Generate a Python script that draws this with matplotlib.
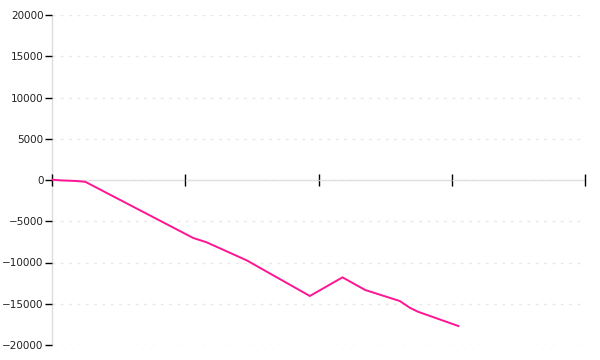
import matplotlib
matplotlib.use("Agg")
import matplotlib.pyplot as plt

# data (x in axis units 0..4)
x_vals = [0.0, 0.06, 0.18, 0.25, 1.06, 1.16, 1.46, 1.935, 2.18, 2.35, 2.61, 2.685, 2.745, 3.05]
y_vals = [30, -40, -120, -220, -7030, -7550, -9730, -14060, -11800, -13330, -14670, -15480, -15960, -17700]
y_ticks = [-20000, -15000, -10000, -5000, 0, 5000, 10000, 15000, 20000]
x_ticks = [0, 1, 2, 3, 4]

fig = plt.figure(figsize=(6, 3.6), dpi=100)
ax = fig.add_axes([52/600, (360-345)/360, (585-52)/600, 330/360])

ax.plot(x_vals, y_vals, color="#ff1493", lw=1.4, solid_joinstyle="round", zorder=3)

ax.set_xlim(0, 4)
ax.set_ylim(-20000, 20000)
ax.set_yticks(y_ticks)
ax.set_xticks(x_ticks)
ax.set_xticklabels([])

for s in ("top", "right"):
    ax.spines[s].set_visible(False)
ax.spines["left"].set_color("#dddddd")
ax.spines["bottom"].set_color("#dddddd")
ax.spines["bottom"].set_position(("data", 0))
ax.spines["left"].set_linewidth(1.0)
ax.spines["bottom"].set_linewidth(1.0)
ax.spines["left"].set_zorder(0.3)
ax.spines["bottom"].set_zorder(0.3)

ax.tick_params(axis="y", direction="out", length=5, width=1, color="black",
               labelsize=7.5, labelcolor="#222222", pad=1)
ax.tick_params(axis="x", direction="inout", length=9, width=1, color="black")

ax.yaxis.grid(True, linestyle=(0, (2, 4)), color="#e8e8e8", lw=1, zorder=0.1)
ax.xaxis.set_zorder(2)
ax.yaxis.set_zorder(2)

fig.savefig("out.png", dpi=100)
